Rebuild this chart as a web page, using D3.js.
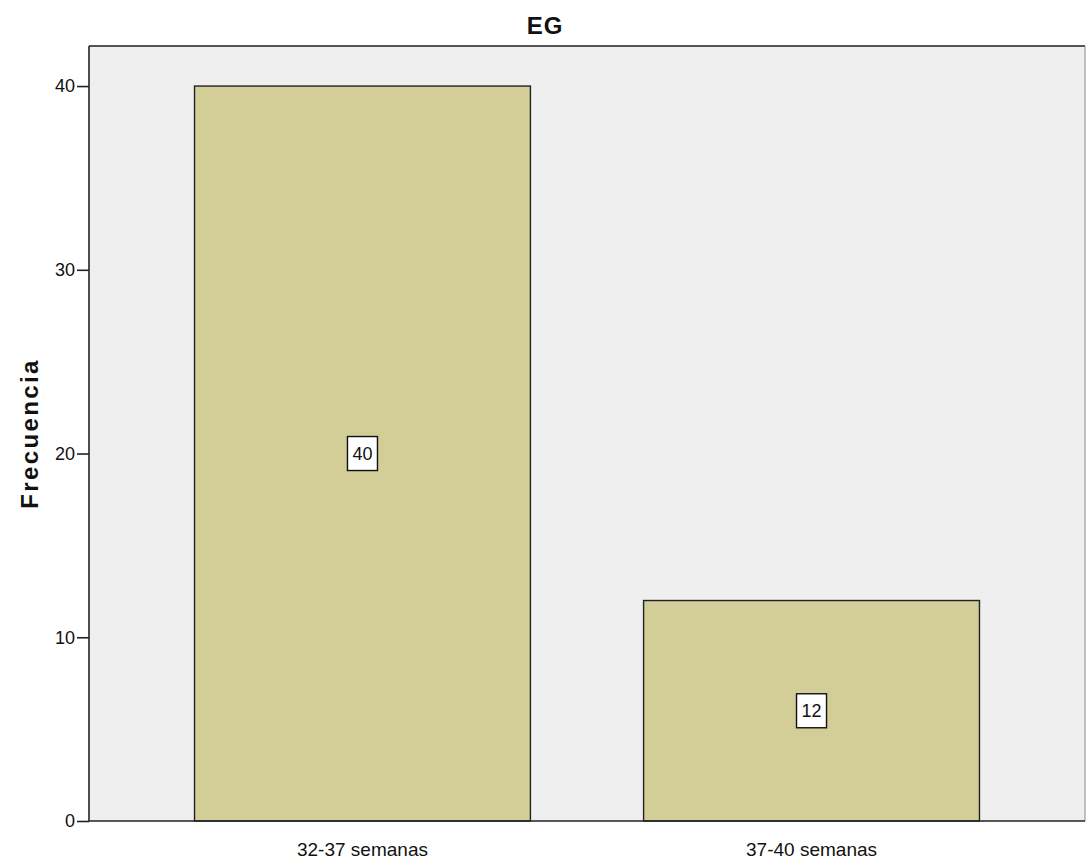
<!DOCTYPE html>
<html><head><meta charset="utf-8">
<script src="https://cdn.jsdelivr.net/npm/d3@7"></script>
<style>body{margin:0;background:#fff;} text{font-family:"Liberation Sans",Arial,sans-serif;}</style>
</head><body>
<svg id="c" width="1086" height="860"></svg>
<script>
const categories = ["32-37 semanas", "37-40 semanas"];
const values = [40, 12];
const yTicks = [0, 10, 20, 30, 40];
const title = "EG";
const yLabel = "Frecuencia";

const svg = d3.select("#c");
const L = 89, R = 1085, T = 46, B = 821;
const x = d3.scaleBand().domain(categories).range([L, R]).paddingInner(0.252).paddingOuter(0.235);
const y = d3.scaleLinear().domain([0, 42.18]).range([B, T]);

svg.append("rect").attr("x", L).attr("y", T).attr("width", R - L).attr("height", B - T)
  .attr("fill", "#efefef").attr("stroke", "none");
// frame
svg.append("line").attr("x1", L).attr("x2", R).attr("y1", T).attr("y2", T).attr("stroke", "#555").attr("stroke-width", 2);
svg.append("line").attr("x1", R).attr("x2", R).attr("y1", T).attr("y2", B).attr("stroke", "#888").attr("stroke-width", 1);

svg.selectAll("rect.bar").data(values).join("rect").attr("class", "bar")
  .attr("x", (d, i) => x(categories[i]))
  .attr("y", d => y(d))
  .attr("width", x.bandwidth())
  .attr("height", d => y(0) - y(d))
  .attr("fill", "#d3ce97").attr("stroke", "#222").attr("stroke-width", 1.4);

// axes
const yAxis = svg.append("g").attr("transform", `translate(${L},0)`)
  .call(d3.axisLeft(y).tickValues(yTicks).tickSizeInner(12).tickSizeOuter(0).tickPadding(2).tickFormat(d3.format("d")));
yAxis.select(".domain").attr("stroke", "#222").attr("stroke-width", 1.6).attr("d", `M0,${T}V${B}`);
yAxis.selectAll(".tick line").attr("stroke", "#222").attr("stroke-width", 1.6);
yAxis.selectAll("text").attr("font-size", 18).attr("fill", "#111").attr("font-family", "Liberation Sans, Arial, sans-serif");

const xAxis = svg.append("g").attr("transform", `translate(0,${B})`).call(d3.axisBottom(x).tickSize(0).tickPadding(21));
xAxis.select(".domain").attr("stroke", "#222").attr("stroke-width", 1.6).attr("d", `M${L},0H${R}`);
xAxis.selectAll("text").attr("font-size", 19).attr("fill", "#111").attr("dy", "0").attr("y", 35).attr("font-family", "Liberation Sans, Arial, sans-serif");

// value labels
const lab = svg.selectAll("g.lab").data(values).join("g").attr("class", "lab")
  .attr("transform", (d, i) => `translate(${x(categories[i]) + x.bandwidth() / 2},${y(d / 2)})`);
lab.append("rect").attr("x", -15).attr("y", -17).attr("width", 30).attr("height", 34)
  .attr("fill", "#fff").attr("stroke", "#111").attr("stroke-width", 1.4);
lab.append("text").attr("text-anchor", "middle").attr("dy", "0.36em").attr("font-size", 18).attr("fill", "#111").text(d => d);

svg.append("text").attr("x", 545).attr("y", 34).attr("text-anchor", "middle")
  .attr("font-size", 24).attr("font-weight", "bold").attr("letter-spacing", 1).attr("fill", "#111").text(title);
svg.append("text").attr("transform", `translate(38,${(T + B) / 2}) rotate(-90)`).attr("text-anchor", "middle")
  .attr("font-size", 24).attr("font-weight", "bold").attr("letter-spacing", 2.4).attr("fill", "#111").text(yLabel);
</script>
</body></html>
